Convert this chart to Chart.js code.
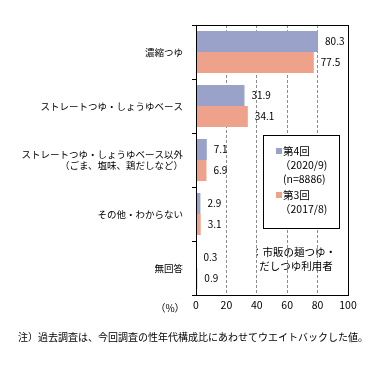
<!DOCTYPE html>
<html>
<head>
<meta charset="utf-8">
<script src="https://cdn.jsdelivr.net/npm/chart.js@4"></script>
<style>
  body { margin: 0; background: #fff; }
  #wrap { width: 389px; height: 367px; position: relative; }
</style>
</head>
<body>
<div id="wrap"><canvas id="chart" width="389" height="367"></canvas></div>
<script>
const categories = [
    '濃縮つゆ',
    'ストレートつゆ・しょうゆベース',
    ['ストレートつゆ・しょうゆベース以外', '（ごま、塩味、鶏だしなど）'],
    'その他・わからない',
    '無回答'
];
const round4 = [80.3, 31.9, 7.1, 2.9, 0.3];   // 第4回 (2020/9)
const round3 = [77.5, 34.1, 6.9, 3.1, 0.9];   // 第3回 (2017/8)
const xTicks = [0, 20, 40, 60, 80, 100];

const FONT = '"Noto Sans CJK JP", "Noto Sans", sans-serif';
const BLUE = '#9AA2C9';
const SALMON = '#EFA28B';

// value labels next to each bar
const valueLabels = {
    id: 'valueLabels',
    afterDatasetsDraw(chart) {
        const ctx = chart.ctx;
        ctx.save();
        ctx.font = '10px ' + FONT;
        ctx.fillStyle = '#000';
        ctx.textBaseline = 'middle';
        ctx.textAlign = 'left';
        chart.data.datasets.forEach((ds, i) => {
            chart.getDatasetMeta(i).data.forEach((bar, j) => {
                ctx.fillText(ds.data[j].toFixed(1), bar.x + 7, bar.y);
            });
        });
        ctx.restore();
    }
};

// frame, legend box, notes
const extras = {
    id: 'extras',
    afterDraw(chart) {
        const ctx = chart.ctx;
        const a = chart.chartArea;
        ctx.save();
        ctx.strokeStyle = '#000';
        ctx.lineWidth = 1;
        ctx.strokeRect(Math.round(a.left) + 0.5, Math.round(a.top) + 0.5,
            Math.round(a.right - a.left), Math.round(a.bottom - a.top));

        // legend box
        ctx.fillStyle = '#fff';
        ctx.fillRect(263, 135, 76, 93);
        ctx.strokeRect(263.5, 135.5, 76, 93);
        ctx.font = '10.5px ' + FONT;
        ctx.textBaseline = 'middle';
        ctx.textAlign = 'left';
        ctx.fillStyle = BLUE;
        ctx.fillRect(276, 148, 6, 6);
        ctx.fillStyle = SALMON;
        ctx.fillRect(276, 192, 6, 6);
        ctx.fillStyle = '#000';
        ctx.fillText('第4回', 283, 151);
        ctx.fillText('（2020/9)', 280, 165);
        ctx.fillText('(n=8886)', 283, 179);
        ctx.fillText('第3回', 283, 195);
        ctx.fillText('（2017/8)', 280, 209);

        // population note
        ctx.textAlign = 'center';
        ctx.fillText('：市販の麺つゆ・', 294, 252);
        ctx.fillText('だしつゆ利用者', 296, 266);

        // unit and footnote
        ctx.font = '10px ' + FONT;
        ctx.fillText('（%）', 170, 308);
        ctx.fillText('注）過去調査は、今回調査の性年代構成比にあわせてウエイトバックした値。', 193, 337);
        ctx.restore();
    }
};

new Chart(document.getElementById('chart'), {
    type: 'bar',
    data: {
        labels: categories,
        datasets: [
            { label: '第4回', data: round4, backgroundColor: BLUE },
            { label: '第3回', data: round3, backgroundColor: SALMON }
        ]
    },
    options: {
        indexAxis: 'y',
        responsive: false,
        animation: false,
        layout: { padding: { left: 0, top: 25, right: 41, bottom: 0 } },
        datasets: { bar: { categoryPercentage: 0.78, barPercentage: 1 } },
        scales: {
            x: {
                min: 0,
                max: 100,
                afterFit: scale => { scale.height = 72; },
                afterBuildTicks: scale => { scale.ticks = xTicks.map(v => ({ value: v })); },
                ticks: {
                    color: '#000',
                    font: { family: FONT, size: 10.5 },
                    padding: 4,
                    maxRotation: 0
                },
                grid: {
                    color: c => (c.tick && (c.tick.value === 0 || c.tick.value === 100)) ? 'rgba(0,0,0,0)' : '#8a8a8a',
                    drawTicks: false
                },
                border: { display: false, dash: [3, 2] }
            },
            y: {
                afterFit: scale => { scale.width = 196; },
                ticks: {
                    color: '#000',
                    font: { family: FONT, size: 9.5 },
                    padding: 9
                },
                grid: {
                    drawOnChartArea: false,
                    drawTicks: true,
                    tickLength: 4,
                    color: '#000'
                },
                border: { display: false }
            }
        },
        plugins: {
            legend: { display: false },
            tooltip: { enabled: false }
        }
    },
    plugins: [valueLabels, extras]
});
</script>
</body>
</html>
